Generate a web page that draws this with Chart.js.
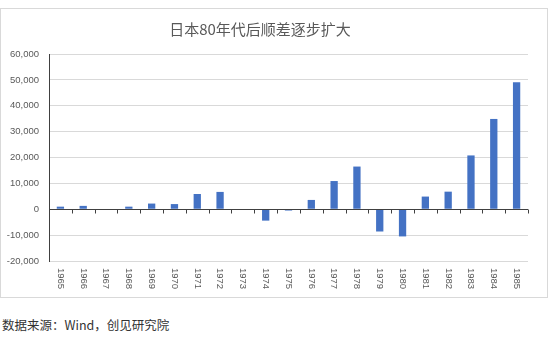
<!DOCTYPE html>
<html>
<head>
<meta charset="utf-8">
<script src="https://cdn.jsdelivr.net/npm/chart.js@4/dist/chart.umd.min.js"></script>
<style>
  html, body { margin: 0; padding: 0; background: #fff; }
  body { width: 550px; height: 342px; position: relative; overflow: hidden; }
  #box {
    position: absolute; left: 0; top: 8px; width: 548px; height: 290px;
    box-sizing: border-box; border: 1px solid #d9d9d9;
  }
  #title {
    position: absolute; left: 0; top: 20px; width: 520px; text-align: center;
    font: 15px "Noto Sans CJK SC", sans-serif; color: #595959; line-height: 18px;
  }
  #source {
    position: absolute; left: 2px; top: 315px;
    font: 12.5px "Noto Sans CJK SC", sans-serif; color: #333;
  }
  canvas { display: block; }
</style>
</head>
<body>
<div id="box"><canvas id="chart" width="546" height="288"></canvas></div>
<div id="title">日本80年代后顺差逐步扩大</div>
<div id="source">数据来源：Wind，创见研究院</div>
<script>
// 年份 & 贸易差额
const years = ['1965', '1966', '1967', '1968', '1969', '1970', '1971', '1972', '1973', '1974', '1975',
  '1976', '1977', '1978', '1979', '1980', '1981', '1982', '1983', '1984', '1985'];
const balance = [1000, 1300, 0, 1000, 2200, 2000, 5900, 6700, 0, -4400, -500,
  3600, 10900, 16500, -8600, -10500, 4900, 6800, 20800, 34900, 49100];
const yTicks = [-20000, -10000, 0, 10000, 20000, 30000, 40000, 50000, 60000];

const AXIS = '#404040';
const TEXT = '#595959';

// 0 轴线 + 刻度，年份标签竖排画在底部
const zeroAxis = {
  id: 'zeroAxis',
  afterDatasetsDraw(chart) {
    const { ctx, chartArea, scales: { x, y } } = chart;
    const y0 = Math.round(y.getPixelForValue(0)) + 0.5;
    const step = x.getPixelForValue(1) - x.getPixelForValue(0);
    ctx.save();
    ctx.strokeStyle = AXIS;
    ctx.lineWidth = 1;
    ctx.beginPath();
    ctx.moveTo(chartArea.left, y0);
    ctx.lineTo(chartArea.right, y0);
    for (let i = 0; i <= years.length; i++) {
      const px = Math.round(x.getPixelForValue(0) - step / 2 + i * step) + 0.5;
      ctx.moveTo(px, y0);
      ctx.lineTo(px, y0 + 4);
    }
    ctx.stroke();

    ctx.fillStyle = TEXT;
    ctx.font = '9.5px "Liberation Sans", sans-serif';
    ctx.textAlign = 'left';
    ctx.textBaseline = 'middle';
    years.forEach((label, i) => {
      ctx.save();
      ctx.translate(x.getPixelForValue(i), chartArea.bottom + 7);
      ctx.rotate(Math.PI / 2);
      ctx.fillText(label, 0, 0);
      ctx.restore();
    });
    ctx.restore();
  }
};

new Chart(document.getElementById('chart'), {
  type: 'bar',
  data: {
    labels: years,
    datasets: [{
      data: balance,
      backgroundColor: '#4472C4',
      borderWidth: 0,
      barPercentage: 0.32,
      categoryPercentage: 1
    }]
  },
  options: {
    responsive: false,
    animation: false,
    layout: { padding: { top: 45, right: 19, left: 0, bottom: 0 } },
    plugins: { legend: { display: false }, title: { display: false }, tooltip: { enabled: false } },
    scales: {
      x: {
        grid: { display: false },
        border: { display: false },
        ticks: { display: false },
        afterFit(scale) { scale.height = 36; }
      },
      y: {
        min: -20000,
        max: 60000,
        afterBuildTicks(scale) { scale.ticks = yTicks.map(v => ({ value: v })); },
        grid: { color: '#d9d9d9', drawTicks: false },
        border: { color: AXIS, width: 1 },
        ticks: {
          color: TEXT,
          padding: 10,
          font: { family: '"Liberation Sans", sans-serif', size: 9.5 },
          callback: v => v.toLocaleString('en-US')
        },
        afterFit(scale) { scale.width = 48; }
      }
    }
  },
  plugins: [zeroAxis]
});
</script>
</body>
</html>
